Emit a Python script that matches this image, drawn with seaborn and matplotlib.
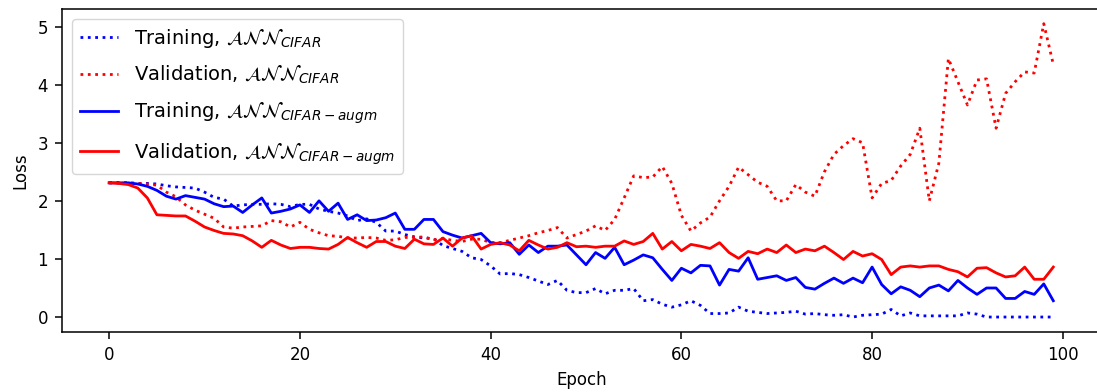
import numpy as np
import pandas as pd
import matplotlib
matplotlib.use("Agg")
import matplotlib.pyplot as plt
import seaborn as sns

epochs = list(range(100))

train_cifar = [2.31, 2.31, 2.31, 2.30, 2.30, 2.29, 2.26, 2.24, 2.23, 2.22,
               2.15, 2.06, 2.03, 1.91, 1.93, 1.94, 1.94, 1.95, 1.94, 1.90,
               1.94, 1.94, 1.86, 1.82, 1.79, 1.74, 1.66, 1.69, 1.63, 1.48,
               1.48, 1.42, 1.38, 1.36, 1.35, 1.23, 1.18, 1.13, 1.02, 0.99,
               0.88, 0.74, 0.75, 0.73, 0.68, 0.62, 0.56, 0.63, 0.46, 0.42,
               0.42, 0.49, 0.40, 0.46, 0.46, 0.49, 0.28, 0.30, 0.22, 0.17,
               0.21, 0.28, 0.20, 0.06, 0.06, 0.07, 0.17, 0.10, 0.08, 0.06,
               0.07, 0.08, 0.10, 0.05, 0.06, 0.04, 0.03, 0.04, 0.00, 0.03,
               0.04, 0.05, 0.13, 0.02, 0.07, 0.02, 0.02, 0.02, 0.02, 0.02,
               0.07, 0.05, 0.00, 0.00, 0.00, 0.00, 0.00, 0.00, 0.00, 0.00]

val_cifar = [2.31, 2.31, 2.31, 2.30, 2.29, 2.27, 2.15, 2.07, 1.93, 1.84,
             1.77, 1.70, 1.55, 1.53, 1.55, 1.56, 1.57, 1.66, 1.64, 1.55,
             1.63, 1.51, 1.45, 1.40, 1.39, 1.36, 1.36, 1.37, 1.36, 1.32,
             1.33, 1.37, 1.37, 1.38, 1.33, 1.35, 1.32, 1.30, 1.34, 1.34,
             1.28, 1.28, 1.32, 1.36, 1.40, 1.45, 1.49, 1.54, 1.36, 1.42,
             1.48, 1.57, 1.49, 1.68, 2.05, 2.43, 2.40, 2.41, 2.59, 2.30,
             1.75, 1.48, 1.62, 1.72, 2.00, 2.25, 2.58, 2.45, 2.32, 2.25,
             2.00, 2.00, 2.28, 2.15, 2.08, 2.50, 2.80, 2.95, 3.07, 3.00,
             2.05, 2.30, 2.35, 2.60, 2.80, 3.25, 2.00, 2.65, 4.45, 4.05,
             3.65, 4.08, 4.10, 3.25, 3.85, 4.05, 4.22, 4.20, 5.05, 4.35]

train_augm = [2.31, 2.31, 2.31, 2.29, 2.25, 2.18, 2.08, 2.03, 2.09, 2.06,
              2.03, 1.95, 1.90, 1.91, 1.80, 1.93, 2.05, 1.79, 1.82, 1.86,
              1.93, 1.80, 2.00, 1.82, 1.96, 1.68, 1.76, 1.66, 1.67, 1.71,
              1.79, 1.51, 1.51, 1.68, 1.68, 1.47, 1.41, 1.36, 1.40, 1.44,
              1.28, 1.26, 1.28, 1.08, 1.24, 1.11, 1.22, 1.22, 1.24, 1.07,
              0.90, 1.11, 1.01, 1.20, 0.90, 0.98, 1.07, 1.02, 0.82, 0.63,
              0.84, 0.76, 0.89, 0.88, 0.55, 0.82, 0.79, 1.02, 0.65, 0.68,
              0.71, 0.63, 0.68, 0.51, 0.48, 0.58, 0.67, 0.58, 0.67, 0.59,
              0.86, 0.56, 0.40, 0.52, 0.46, 0.35, 0.50, 0.55, 0.45, 0.63,
              0.50, 0.39, 0.50, 0.50, 0.32, 0.32, 0.44, 0.39, 0.57, 0.28]

val_augm = [2.31, 2.30, 2.28, 2.22, 2.05, 1.76, 1.75, 1.74, 1.74, 1.65,
            1.55, 1.49, 1.44, 1.43, 1.40, 1.31, 1.20, 1.32, 1.24, 1.18,
            1.20, 1.20, 1.18, 1.17, 1.25, 1.37, 1.28, 1.20, 1.30, 1.30,
            1.22, 1.18, 1.34, 1.26, 1.25, 1.36, 1.22, 1.36, 1.40, 1.17,
            1.25, 1.28, 1.24, 1.14, 1.32, 1.24, 1.17, 1.20, 1.28, 1.21,
            1.22, 1.20, 1.22, 1.22, 1.31, 1.25, 1.30, 1.44, 1.17, 1.30,
            1.14, 1.25, 1.22, 1.18, 1.28, 1.11, 1.01, 1.13, 1.09, 1.17,
            1.11, 1.24, 1.11, 1.17, 1.14, 1.22, 1.11, 0.99, 1.13, 1.05,
            1.09, 0.99, 0.73, 0.86, 0.88, 0.86, 0.88, 0.88, 0.82, 0.78,
            0.69, 0.84, 0.85, 0.76, 0.69, 0.71, 0.86, 0.65, 0.65, 0.86]

labels = [r'Training, $\mathcal{ANN}_{CIFAR}$',
          r'Validation, $\mathcal{ANN}_{CIFAR}$',
          r'Training, $\mathcal{ANN}_{CIFAR-augm}$',
          r'Validation, $\mathcal{ANN}_{CIFAR-augm}$']
series = [train_cifar, val_cifar, train_augm, val_augm]
colors = ['blue', 'red', 'blue', 'red']
styles = [':', ':', '-', '-']

plt.rcParams.update({
    'font.size': 12,
    'xtick.major.size': 5,
    'ytick.major.size': 5,
    'xtick.major.pad': 5,
    'ytick.major.pad': 5,
    'xtick.major.width': 1.1,
    'ytick.major.width': 1.1,
    'axes.linewidth': 1.1,
    'axes.labelpad': 5.5,
})

fig = plt.figure(figsize=(10.97, 3.92), dpi=100)
ax = fig.add_axes([62 / 1097, (392 - 331.7) / 392, (1100.5 - 62) / 1097, (331.7 - 9) / 392])

for vals, lab, col, ls in zip(series, labels, colors, styles):
    df = pd.DataFrame({'Epoch': epochs, 'Loss': vals})
    sns.lineplot(data=df, x='Epoch', y='Loss', ax=ax, color=col, linestyle=ls,
                 label=lab, linewidth=2.0)

ax.set_xlabel('Epoch')
ax.set_ylabel('Loss')
ax.set_xticks([0, 20, 40, 60, 80, 100])
ax.set_yticks([0, 1, 2, 3, 4, 5])
ax.legend(loc='upper left', fontsize=14, labelspacing=0.75)

fig.savefig('out.png', dpi=100)
